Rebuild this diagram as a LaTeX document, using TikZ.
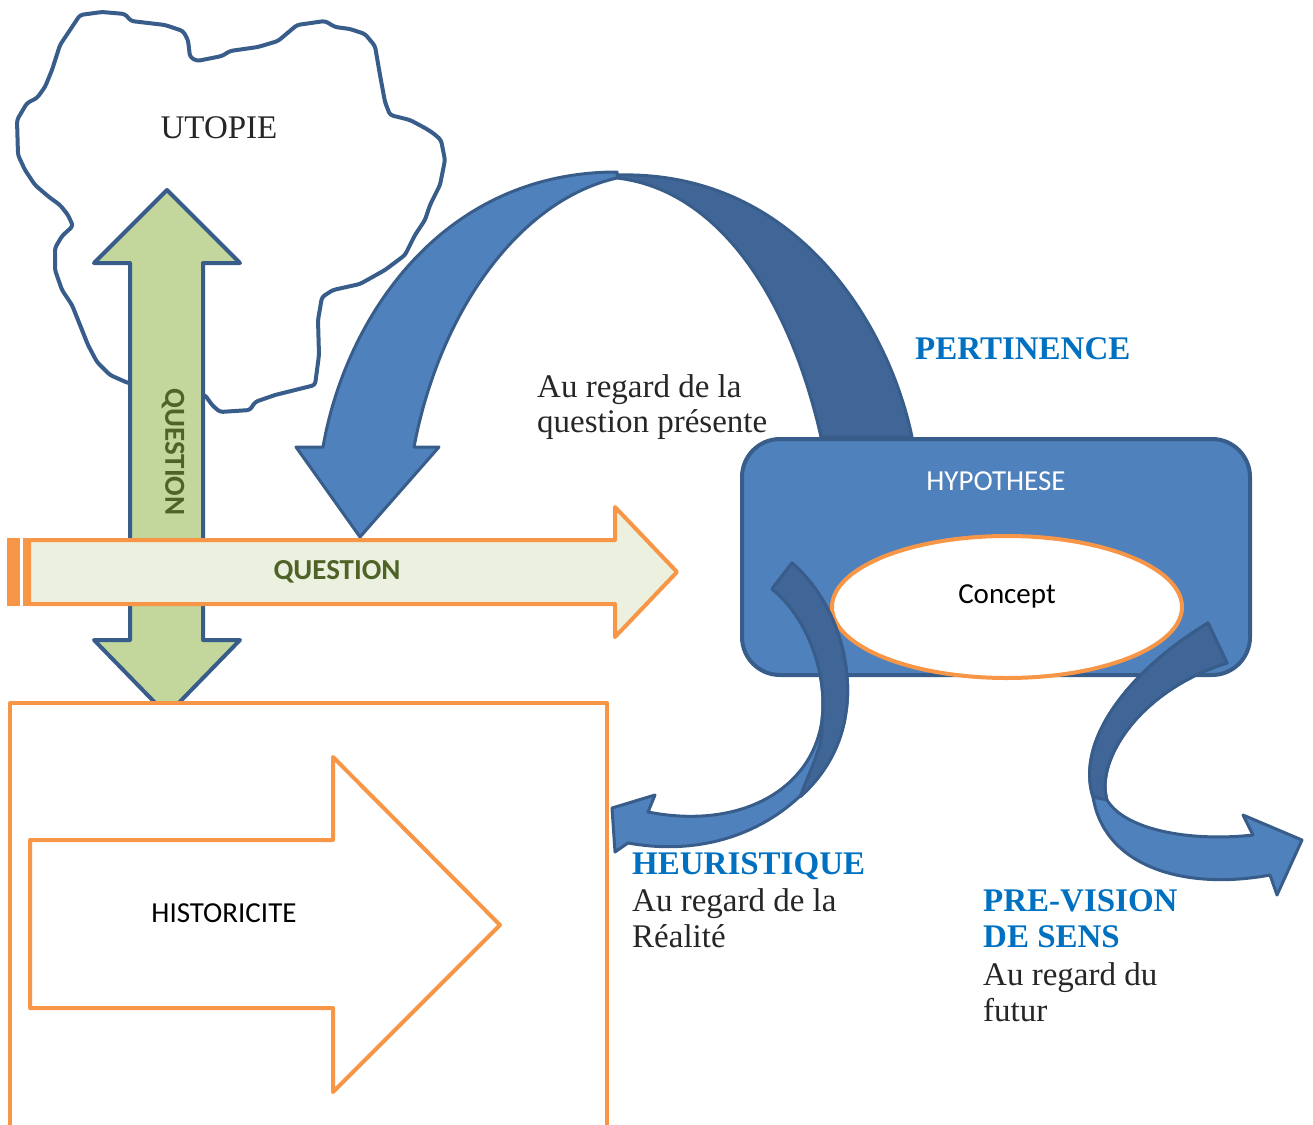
\documentclass[tikz,border=0pt]{standalone}
\usepackage{fontspec}
\setmainfont{Liberation Serif}
\newfontfamily\carlito{Carlito}
\definecolor{outlineblue}{RGB}{56,93,138}
\definecolor{ribbonlight}{RGB}{79,129,189}
\definecolor{ribbondark}{RGB}{64,102,151}
\definecolor{leafgreen}{RGB}{195,214,155}
\definecolor{olivetext}{RGB}{79,98,40}
\definecolor{paleleaf}{RGB}{235,241,222}
\definecolor{tangerine}{RGB}{247,150,70}
\definecolor{titleblue}{RGB}{0,112,192}
\definecolor{inkgray}{RGB}{38,38,38}
\begin{document}
\begin{tikzpicture}[x=1pt,y=-1pt,line join=round,
  cloudline/.style={draw=outlineblue,line width=4pt,fill=white,rounded corners=3pt},
  greenarrow/.style={draw=outlineblue,line width=4pt,fill=leafgreen},
  orangeshape/.style={draw=tangerine,line width=4pt},
  lightribbon/.style={draw=outlineblue,line width=3pt,fill=ribbonlight},
  darkribbon/.style={draw=outlineblue,line width=3pt,fill=ribbondark},
  serif/.style={font=\fontsize{33}{36}\selectfont,text=inkgray,inner sep=0pt},
  heading/.style={font=\fontsize{33}{36}\selectfont\bfseries,text=titleblue,inner sep=0pt},
  sans/.style={font=\carlito\fontsize{29}{34}\selectfont,inner sep=0pt},
  sansbold/.style={font=\carlito\fontsize{29}{34}\selectfont\bfseries,text=olivetext,inner sep=0pt}]
\useasboundingbox (0,0) rectangle (1313,1124);

% cloud
\draw[cloudline] (80,15) -- (102,12) -- (125,14) -- (131,21) -- (165,25) -- (183,31) -- (188,40)
  -- (190,57) -- (197,61) -- (222,56) -- (230,51) -- (258,47) -- (278,41) -- (297,25) -- (325,21)
  -- (335,27) -- (350,29) -- (365,34) -- (375,46) -- (380,75) -- (385,102) -- (390,115) -- (410,120)
  -- (425,128) -- (433,133) -- (441,140) -- (445,160) -- (440,185) -- (430,205) -- (425,220)
  -- (415,235) -- (405,255) -- (385,270) -- (360,284) -- (333,290) -- (322,297) -- (318,320)
  -- (319,355) -- (315,385) -- (295,390) -- (275,395) -- (255,402) -- (250,410) -- (220,412)
  -- (212,405) -- (205,395) -- (167,388) -- (128,383) -- (110,375) -- (97,362) -- (88,345)
  -- (80,325) -- (72,305) -- (62,290) -- (55,270) -- (55,248) -- (62,236) -- (73,226) -- (68,215)
  -- (60,205) -- (49,197) -- (35,185) -- (25,170) -- (18,155) -- (17,120) -- (27,103) -- (37,98)
  -- (45,87) -- (52,70) -- (60,45) -- (70,30) -- cycle;

% vertical double arrow
\draw[greenarrow] (130,263) -- (94,263) -- (167,190) -- (240,263) -- (203,263) -- (203,640)
  -- (240,640) -- (167,715) -- (94,640) -- (130,640) -- cycle;

% arch arrow: back side then front side
\draw[darkribbon] (617,175) .. controls (800,170) and (890,330) .. (912,437) -- (821,437)
  .. controls (790,300) and (720,190) .. (617,178) -- cycle;
\draw[lightribbon] (617,172) .. controls (440,172) and (345,320) .. (323,447) -- (296,447)
  -- (360,537) -- (439,447) -- (414,447) .. controls (440,310) and (520,200) .. (617,178) -- cycle;

% horizontal striped arrow
\fill[tangerine] (7,538) rectangle (20,606);
\fill[tangerine] (23,538) rectangle (29,606);
\draw[orangeshape,fill=paleleaf] (29,540) -- (615,540) -- (615,507) -- (677,572) -- (615,637)
  -- (615,604) -- (29,604) -- cycle;

% historicity frame and arrow
\draw[orangeshape,fill=white] (10,1135) -- (10,703) -- (607,703) -- (607,1135);
\draw[orangeshape] (30,840) -- (333,840) -- (333,757) -- (500,925) -- (333,1092) -- (333,1008)
  -- (30,1008) -- cycle;

% hypothesis box and concept ellipse
\draw[draw=outlineblue,line width=4pt,fill=ribbonlight,rounded corners=38pt] (742,439) rectangle (1250,675);
\draw[orangeshape,fill=white] (1007,607) ellipse [x radius=175, y radius=71];

% curved arrow towards the left
\draw[lightribbon] (792,563) .. controls (838,603) and (853,668) .. (846,712)
  .. controls (836,785) and (750,865) .. (628,843) -- (615,852) -- (612,808) -- (655,795) -- (648,812)
  .. controls (740,830) and (812,790) .. (822,720) .. controls (828,670) and (805,615) .. (772,589) -- cycle;
\draw[darkribbon] (792,563) .. controls (838,603) and (853,668) .. (846,712)
  .. controls (842,745) and (825,775) .. (800,797) .. controls (812,765) and (824,745) .. (822,720)
  .. controls (828,670) and (805,615) .. (772,589) -- cycle;

% curved arrow towards the right
\draw[lightribbon] (1208,623) .. controls (1130,670) and (1075,740) .. (1093,797)
  .. controls (1105,870) and (1190,890) .. (1270,875) -- (1277,895) -- (1302,840) -- (1243,815) -- (1253,835)
  .. controls (1190,842) and (1125,830) .. (1107,800) .. controls (1095,760) and (1140,690) .. (1227,663) -- cycle;
\draw[darkribbon] (1208,623) .. controls (1130,670) and (1075,740) .. (1093,797)
  -- (1107,800) .. controls (1095,760) and (1140,690) .. (1227,663) -- cycle;

% labels
\node[serif] (utopie) at (219,128) {UTOPIE};
\node[sansbold,rotate=-90] (qvert) at (173,452) {QUESTION};
\node[sansbold] (qhoriz) at (337,572) {QUESTION};
\node[sans] (historicite) at (224,913) {HISTORICITE};
\node[sans,text=white] (hypothese) at (996,481) {HYPOTHESE};
\node[sans] (concept) at (1007,596) {Concept};

\node[serif,anchor=base west] (presA) at (537,397) {Au regard de la};
\node[serif,anchor=base west] (presB) at (537,432) {question présente};
\node[heading,anchor=base west] (pertinence) at (915,359) {PERTINENCE};

\node[heading,anchor=base west] (heuristique) at (632,874) {HEURISTIQUE};
\node[serif,anchor=base west] (reelA) at (632,911) {Au regard de la};
\node[serif,anchor=base west] (reelB) at (632,947) {Réalité};

\node[heading,anchor=base west] (prevision) at (983,911) {PRE-VISION};
\node[heading,anchor=base west] (sens) at (983,947) {DE SENS};
\node[serif,anchor=base west] (futurA) at (983,985) {Au regard du};
\node[serif,anchor=base west] (futurB) at (983,1021) {futur};
\end{tikzpicture}
\end{document}
